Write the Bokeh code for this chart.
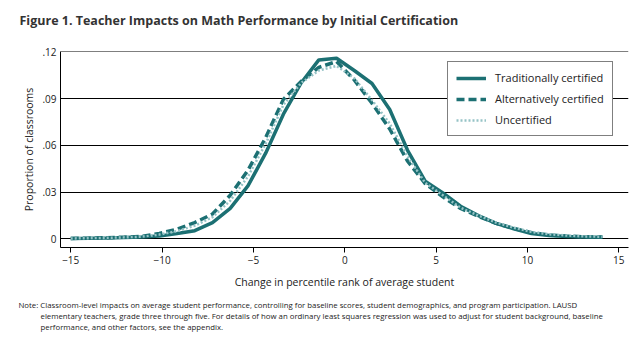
from bokeh.plotting import figure
from bokeh.models import Title, Legend, LegendItem, FixedTicker, Range1d
from bokeh.embed import file_html
from bokeh.resources import INLINE

# ---- data ----
x_vals = [-15.0, -14.03, -13.06, -12.09, -11.12, -10.15, -9.18, -8.21, -7.24, -6.27,
          -5.3, -4.33, -3.36, -2.39, -1.42, -0.45, 0.52, 1.49, 2.46, 3.43,
          4.4, 5.37, 6.34, 7.31, 8.28, 9.25, 10.22, 11.19, 12.16, 13.13, 14.1]

traditional = [0.0003, 0.0004, 0.0006, 0.0009, 0.0013, 0.0018, 0.0035, 0.0053, 0.0105, 0.0196,
               0.0340, 0.0550, 0.0800, 0.1000, 0.1148, 0.1159, 0.1080, 0.0997, 0.0830, 0.0570,
               0.0370, 0.0295, 0.0210, 0.0150, 0.0100, 0.0065, 0.0035, 0.0022, 0.0015, 0.0012, 0.0010]

alternative = [0.0003, 0.0005, 0.0008, 0.0011, 0.0016, 0.0035, 0.0063, 0.0105, 0.0160, 0.0280,
               0.0440, 0.0650, 0.0895, 0.1010, 0.1100, 0.1138, 0.1020, 0.0870, 0.0705, 0.0500,
               0.0355, 0.0270, 0.0195, 0.0145, 0.0100, 0.0068, 0.0040, 0.0025, 0.0018, 0.0014, 0.0012]

uncertified = [0.0003, 0.0005, 0.0007, 0.0010, 0.0014, 0.0028, 0.0050, 0.0085, 0.0140, 0.0245,
               0.0400, 0.0610, 0.0860, 0.1000, 0.1080, 0.1110, 0.1030, 0.0890, 0.0740, 0.0530,
               0.0360, 0.0280, 0.0200, 0.0150, 0.0105, 0.0072, 0.0045, 0.0030, 0.0022, 0.0016, 0.0014]

series_names = ["Traditionally certified", "Alternatively certified", "Uncertified"]

x_ticks = [-15, -10, -5, 0, 5, 10, 15]
x_tick_labels = ["\u221215", "\u221210", "\u22125", "0", "5", "10", "15"]
y_ticks = [0, 0.03, 0.06, 0.09, 0.12]
y_tick_labels = ["0", ".03", ".06", ".09", ".12"]

title_text = "Figure 1. Teacher Impacts on Math Performance by Initial Certification"
x_label = "Change in percentile rank of average student"
y_label = "Proportion of classrooms"
note_lines = [
    "Note: Classroom-level impacts on average student performance, controlling for baseline scores, student demographics, and program participation. LAUSD",
    "elementary teachers, grade three through five. For details of how an ordinary least squares regression was used to adjust for student background, baseline",
    "performance, and other factors, see the appendix.",
]

FONT = "Open Sans"
DARK = "#1c7073"
LIGHT = "#96c3c6"

p = figure(width=641, height=350, output_backend="svg", toolbar_location=None,
           x_range=Range1d(-15.56, 15.53), y_range=Range1d(-0.0055, 0.1202),
           min_border_left=60, min_border_right=13, min_border_top=0,
           min_border_bottom=103, background_fill_color="white",
           border_fill_color="white")
p.outline_line_color = None
p.xgrid.grid_line_color = None
p.ygrid.grid_line_color = "black"
p.ygrid.grid_line_width = 1

# spacer below the title, then the title at the top of the page
p.add_layout(Title(text=" ", text_font_size="11px", standoff=0), "above")
t = Title(text=title_text, align="left", offset=-41, standoff=18,
          text_font=FONT, text_font_style="bold", text_font_size="12.5px",
          text_color="#333333")
p.add_layout(t, "above")

# axes
p.xaxis.ticker = FixedTicker(ticks=x_ticks)
p.xaxis.major_label_overrides = {k: v for k, v in zip(x_ticks, x_tick_labels)}
p.yaxis.ticker = FixedTicker(ticks=y_ticks)
p.yaxis.major_label_overrides = {k: v for k, v in zip(y_ticks, y_tick_labels)}
for ax in (p.xaxis[0], p.yaxis[0]):
    ax.axis_line_color = "black"
    ax.axis_line_width = 1
    ax.minor_tick_line_color = None
    ax.major_label_text_font = FONT
    ax.major_label_text_font_size = "10px"
    ax.major_label_text_color = "#222222"
    ax.axis_label_text_font = FONT
    ax.axis_label_text_font_size = "10.5px"
    ax.axis_label_text_font_style = "normal"
    ax.axis_label_text_color = "#222222"
p.xaxis.major_tick_out = 5
p.xaxis.major_tick_in = 0
p.xaxis.major_tick_line_color = "black"
p.xaxis.major_label_standoff = 3
p.xaxis.axis_label = x_label
p.xaxis.axis_label_standoff = 8
p.yaxis.major_tick_out = 0
p.yaxis.major_tick_in = 0
p.yaxis.major_label_standoff = 4
p.yaxis.axis_label = y_label
p.yaxis.axis_label_standoff = 3

# lines
r1 = p.line(x_vals, traditional, line_color=DARK, line_width=3.5)
r2 = p.line(x_vals, alternative, line_color=DARK, line_width=3.5, line_dash="8 4")
r3 = p.line(x_vals, uncertified, line_color=LIGHT, line_width=2.5, line_dash="2 2")

legend = Legend(items=[LegendItem(label=series_names[0], renderers=[r1]),
                       LegendItem(label=series_names[1], renderers=[r2]),
                       LegendItem(label=series_names[2], renderers=[r3])],
                location=(387, 111), orientation="vertical",
                glyph_width=30, glyph_height=10, label_height=10,
                label_standoff=9, spacing=6, padding=8, margin=0,
                border_line_color="black", border_line_width=1,
                background_fill_color="white", background_fill_alpha=1,
                label_text_font=FONT, label_text_font_size="11px",
                label_text_color="#222222")
p.add_layout(legend, "center")

# spacer between axis label and the note
p.add_layout(Title(text=" ", text_font_size="4px", standoff=0), "below")

# note lines
offsets = [-42, -20, -20]
for i, (line, off) in enumerate(zip(note_lines, offsets)):
    nt = Title(text=line, align="left", offset=off, standoff=-1,
               text_font=FONT, text_font_style="normal", text_font_size="7.8px",
               text_color="#222222")
    p.add_layout(nt, "below")

open("out.html", "w").write(file_html(p, INLINE))
